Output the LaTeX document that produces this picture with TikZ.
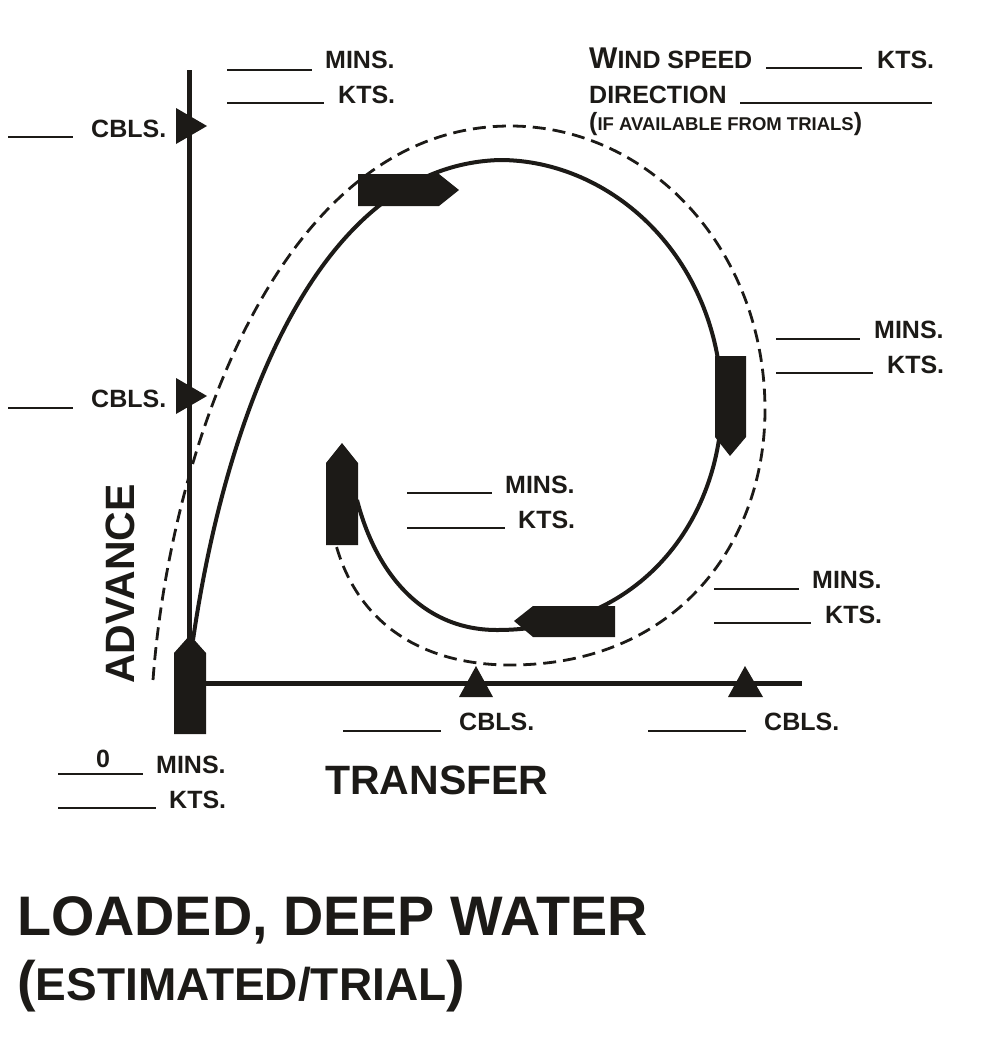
\documentclass[tikz,border=0pt]{standalone}
\usepackage{fontspec}
\setmainfont{Liberation Sans}
\usepackage{tikz}
\definecolor{cink}{HTML}{1C1A17}
\newcommand{\fsz}[1]{\fontsize{#1}{#1}\selectfont}
\tikzset{
  lbl/.style={anchor=base west, inner sep=0pt, yshift=1pt, text=cink, font=\fsz{25}\bfseries},
  axislbl/.style={lbl, font=\fsz{41}\bfseries},
  titlelbl/.style={lbl, font=\fsz{55.7}\bfseries},
  hull/.style={fill=cink},
  pointer/.style={fill=cink},
  blank/.style={draw=cink, line width=2.8pt},
  axisline/.style={draw=cink, line width=5pt},
  track/.style={draw=cink, line width=4pt},
  estimate/.style={draw=cink, line width=2.8pt, dash pattern=on 13pt off 7pt},
}
\begin{document}
\begin{tikzpicture}[x=1pt,y=-1pt]
\useasboundingbox (0,0) rectangle (1000,1045);
% axes
\draw[axisline] (189,70) -- (189,640);
\draw[axisline] (205,683) -- (802,683);
% tracks
\draw[estimate] (153,680) .. controls (170,450) and (280,126) .. (510,126)
  .. controls (650,126) and (765,250) .. (765,410)
  .. controls (765,540) and (680,665) .. (510,665)
  .. controls (430,665) and (360,630) .. (336,545);
\draw[track] (193,640) .. controls (225,420) and (315,165) .. (500,160)
  .. controls (610,160) and (718,255) .. (722,400)
  .. controls (722,520) and (640,630) .. (497,630)
  .. controls (420,630) and (375,570) .. (357,500);
% ship positions
\fill[hull] (174,734) -- (174,653) -- (190,635) -- (206,653) -- (206,734) -- cycle;
\fill[hull] (358,174) -- (439,174) -- (459,190) -- (439,206) -- (358,206) -- cycle;
\fill[hull] (715,356) -- (746,356) -- (746,437) -- (730,456) -- (715,437) -- cycle;
\fill[hull] (615,606) -- (533,606) -- (514,621) -- (533,637) -- (615,637) -- cycle;
\fill[hull] (326,545) -- (326,463) -- (342,443) -- (358,463) -- (358,545) -- cycle;
% distance marks
\fill[pointer] (176,108) -- (207,126) -- (176,144) -- cycle;
\fill[pointer] (176,378) -- (207,396) -- (176,414) -- cycle;
\fill[pointer] (459,697) -- (476,666) -- (493,697) -- cycle;
\fill[pointer] (728,697) -- (745,666) -- (763,697) -- cycle;
% blanks
\draw[blank] (227,70) -- (312,70);
\draw[blank] (227,103) -- (324,103);
\draw[blank] (8,137) -- (73,137);
\draw[blank] (8,408) -- (73,408);
\draw[blank] (776,339) -- (860,339);
\draw[blank] (776,373) -- (873,373);
\draw[blank] (407,493) -- (492,493);
\draw[blank] (407,528) -- (505,528);
\draw[blank] (714,589) -- (799,589);
\draw[blank] (714,623) -- (811,623);
\draw[blank] (343,731) -- (441,731);
\draw[blank] (648,731) -- (746,731);
\draw[blank] (58,774) -- (143,774);
\draw[blank] (58,808) -- (156,808);
\draw[blank] (766,68) -- (862,68);
\draw[blank] (740,103) -- (932,103);
% labels
\node[lbl] (mtop) at (325,69) {MINS.};
\node[lbl] (ktop) at (338,104) {KTS.};
\node[lbl] (ca) at (91,138) {CBLS.};
\node[lbl] (cb) at (91,408) {CBLS.};
\node[lbl] (mright) at (874,339) {MINS.};
\node[lbl] (kright) at (887,374) {KTS.};
\node[lbl] (mmid) at (505,494) {MINS.};
\node[lbl] (kmid) at (518,529) {KTS.};
\node[lbl] (mlow) at (812,589) {MINS.};
\node[lbl] (klow) at (825,624) {KTS.};
\node[lbl] (cc) at (459,731) {CBLS.};
\node[lbl] (cd) at (764,731) {CBLS.};
\node[lbl] (zero) at (96,768) {0};
\node[lbl] (mzero) at (156,774) {MINS.};
\node[lbl] (kzero) at (169,809) {KTS.};
\node[lbl] (wind) at (589,69) {{\fsz{30}W}IND SPEED};
\node[lbl] (kwind) at (877,69) {KTS.};
\node[lbl] (dir) at (589,104) {DIRECTION};
\node[lbl] (trials) at (589,131) {({\fsz{18.5}IF AVAILABLE FROM TRIALS})};
\node[axislbl] (transfer) at (325,795) {TRANSFER};
\node[axislbl, rotate=90] (advance) at (134,685) {ADVANCE};
\node[titlelbl] (title) at (17,936) {LOADED, DEEP WATER};
\node[titlelbl] (sub) at (17,1001) {({\fsz{46}ESTIMATED/TRIAL})};
\end{tikzpicture}
\end{document}
